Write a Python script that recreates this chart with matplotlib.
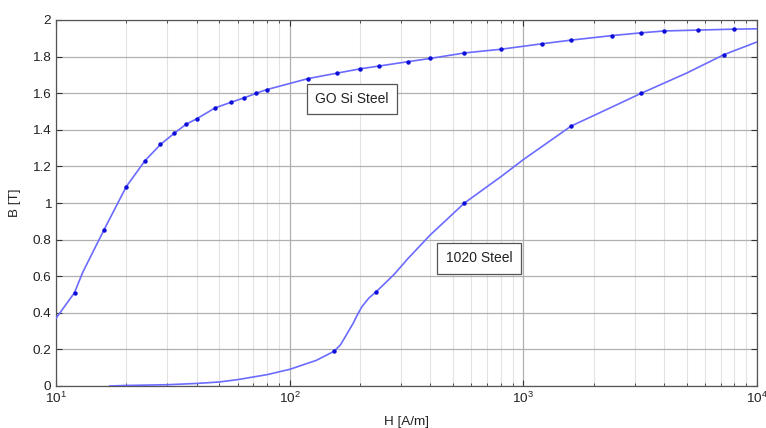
import matplotlib
matplotlib.use("Agg")
import matplotlib.pyplot as plt
from matplotlib.ticker import LogLocator

plt.rcParams['font.family'] = ['Liberation Sans', 'DejaVu Sans']
plt.rcParams['mathtext.fontset'] = 'custom'
plt.rcParams['mathtext.rm'] = 'Liberation Sans'
plt.rcParams['mathtext.it'] = 'Liberation Sans'

# GO Si Steel B-H curve
go_H = [10, 12, 13, 16, 20, 24, 28, 32, 36, 40, 48, 56, 64, 72, 80, 120, 160, 200, 240,
        320, 400, 560, 800, 1200, 1600, 2400, 3200, 4000, 5600, 8000, 10000]
go_B = [0.37, 0.51, 0.62, 0.85, 1.09, 1.23, 1.32, 1.38, 1.43, 1.46, 1.52, 1.55, 1.575, 1.60, 1.62,
        1.68, 1.71, 1.733, 1.748, 1.772, 1.79, 1.82, 1.84, 1.87, 1.89, 1.915, 1.93, 1.94, 1.945,
        1.95, 1.952]
go_markers = [1, 3, 4, 5, 6, 7, 8, 9, 10, 11, 12, 13, 14, 15, 16, 17, 18, 19, 20, 21, 22,
              23, 24, 25, 26, 27, 28, 29]

# 1020 Steel B-H curve
st_H = [17, 20, 30, 40, 50, 60, 80, 100, 130, 155, 165, 175, 187, 196, 204, 218, 235, 280,
        320, 400, 560, 800, 1000, 1600, 2400, 3200, 5000, 7200, 10000]
st_B = [0.0, 0.003, 0.007, 0.014, 0.022, 0.035, 0.062, 0.091, 0.14, 0.19, 0.225, 0.28, 0.343,
        0.395, 0.434, 0.48, 0.516, 0.61, 0.695, 0.826, 1.0, 1.143, 1.237, 1.42, 1.525, 1.6,
        1.71, 1.81, 1.88]
st_markers = [9, 16, 20, 23, 25, 27]

labels = ["GO Si Steel", "1020 Steel"]

fig = plt.figure(figsize=(7.66, 4.28), dpi=100)
ax = fig.add_axes([56 / 766, 1 - 386 / 428, (757 - 56) / 766, (386 - 20) / 428])

line_color = (0.42, 0.42, 1.0)
mk_color = (0.05, 0.05, 0.85)
for H, B, mk in [(go_H, go_B, go_markers), (st_H, st_B, st_markers)]:
    ax.plot(H, B, color=line_color, lw=1.2, zorder=3)
    ax.plot([H[i] for i in mk], [B[i] for i in mk], ls='none', marker='o', ms=2.2,
            color=mk_color, zorder=4)

ax.set_xscale('log')
ax.set_xlim(10, 10000)
ax.set_ylim(0, 2)
ax.set_yticks([0, 0.2, 0.4, 0.6, 0.8, 1, 1.2, 1.4, 1.6, 1.8, 2])
ax.set_yticklabels(['0', '0.2', '0.4', '0.6', '0.8', '1', '1.2', '1.4', '1.6', '1.8', '2'])
ax.xaxis.set_major_locator(LogLocator(base=10, numticks=10))
ax.xaxis.set_minor_locator(LogLocator(base=10, subs=range(2, 10), numticks=20))

ax.grid(True, which='major', color='#b0b0b0', lw=0.9)
ax.grid(True, which='minor', axis='x', color='#e2e2e2', lw=0.8)
ax.set_axisbelow(True)

ax.tick_params(which='both', direction='in', top=True, right=True, labelsize=9.7,
               colors='#333333', labelcolor='#222222')
ax.tick_params(which='major', length=4)
ax.tick_params(which='minor', length=2.5)
for s in ax.spines.values():
    s.set_color('#555555')
    s.set_linewidth(0.9)

ax.set_xlabel('H [A/m]', fontsize=9.7, color='#222222', labelpad=7)
ax.set_ylabel('B [T]', fontsize=9.7, color='#222222', labelpad=8)

box = dict(boxstyle='square,pad=0.6', fc='white', ec='#555555', lw=0.9)
ax.annotate(labels[0], xy=((352 - 56) / (757 - 56), (386 - 99) / (386 - 20)),
            xycoords='axes fraction', ha='center', va='center', fontsize=10,
            color='#222222', bbox=box, zorder=5)
ax.annotate(labels[1], xy=((479 - 56) / (757 - 56), (386 - 258.5) / (386 - 20)),
            xycoords='axes fraction', ha='center', va='center', fontsize=10,
            color='#222222', bbox=box, zorder=5)

fig.savefig('out.png', dpi=100, facecolor='white')
